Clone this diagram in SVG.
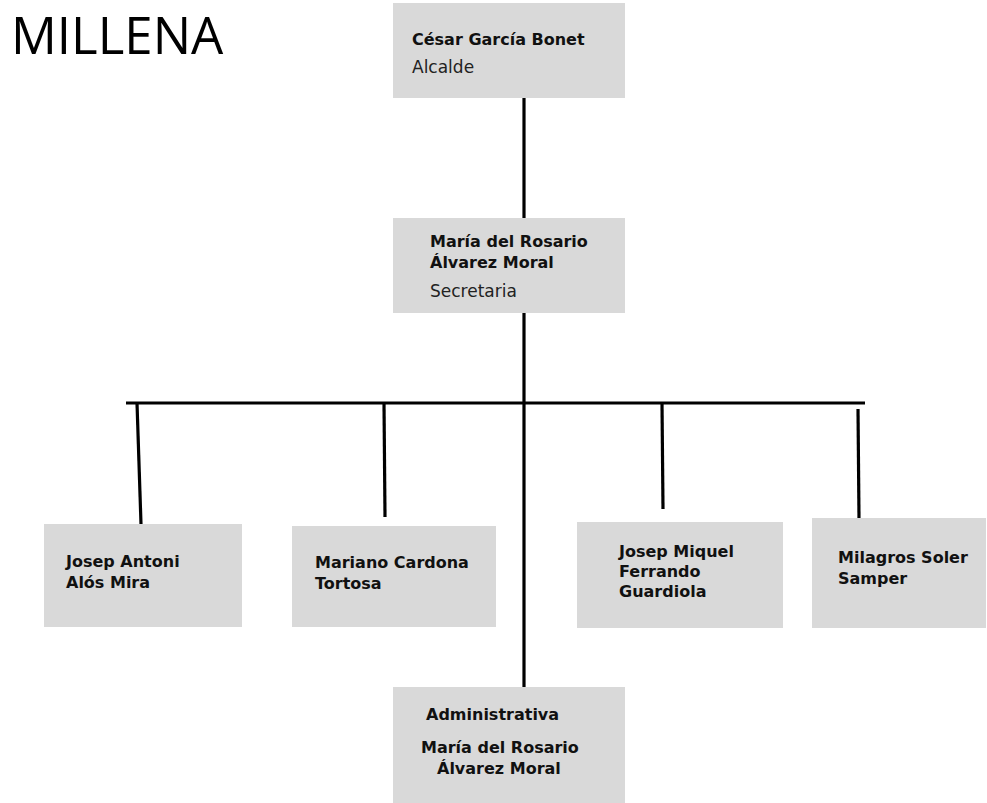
<svg xmlns="http://www.w3.org/2000/svg" width="987" height="803" viewBox="0 0 987 803">
<style>
.box{fill:#d9d9d9}
.b{font-family:"DejaVu Sans",Verdana,sans-serif;font-weight:bold;font-size:16px;fill:#111}
.r{font-family:"DejaVu Sans",Verdana,sans-serif;font-size:17px;fill:#222}
.ln{stroke:#000;stroke-width:3.2;fill:none;stroke-linecap:butt}
.title{font-family:"Open Sans","Noto Sans",sans-serif;font-size:51px;fill:#000}
</style>
<rect width="987" height="803" fill="#fff"/>
<text class="title" x="11" y="54">MILLENA</text>
<g id="connectors">
<line class="ln" x1="524" y1="98" x2="524" y2="218"/>
<line class="ln" x1="524" y1="313" x2="524" y2="687"/>
<line class="ln" x1="126" y1="403" x2="865" y2="403"/>
<line class="ln" x1="137" y1="403" x2="141" y2="524"/>
<line class="ln" x1="384" y1="403" x2="385" y2="517"/>
<line class="ln" x1="662" y1="403" x2="663" y2="509"/>
<line class="ln" x1="858" y1="409" x2="859" y2="518"/>
</g>
<g id="alcalde">
<rect class="box" x="393" y="3" width="232" height="95"/>
<text class="b" x="412" y="45">César García Bonet</text>
<text class="r" x="412" y="73">Alcalde</text>
</g>
<g id="secretaria">
<rect class="box" x="393" y="218" width="232" height="95"/>
<text class="b" x="430" y="247">María del Rosario</text>
<text class="b" x="430" y="268">Álvarez Moral</text>
<text class="r" x="430" y="297">Secretaria</text>
</g>
<g id="alos">
<rect class="box" x="44" y="524" width="198" height="103"/>
<text class="b" x="66" y="567">Josep Antoni</text>
<text class="b" x="66" y="588">Alós Mira</text>
</g>
<g id="cardona">
<rect class="box" x="292" y="526" width="204" height="101"/>
<text class="b" x="315" y="568">Mariano Cardona</text>
<text class="b" x="315" y="589">Tortosa</text>
</g>
<g id="ferrando">
<rect class="box" x="577" y="522" width="206" height="106"/>
<text class="b" x="619" y="557">Josep Miquel</text>
<text class="b" x="619" y="577">Ferrando</text>
<text class="b" x="619" y="597">Guardiola</text>
</g>
<g id="soler">
<rect class="box" x="812" y="518" width="174" height="110"/>
<text class="b" x="838" y="563">Milagros Soler</text>
<text class="b" x="838" y="584">Samper</text>
</g>
<g id="administrativa">
<rect class="box" x="393" y="687" width="232" height="116"/>
<text class="b" x="426" y="720">Administrativa</text>
<text class="b" x="421" y="753">María del Rosario</text>
<text class="b" x="437" y="774">Álvarez Moral</text>
</g>
</svg>
